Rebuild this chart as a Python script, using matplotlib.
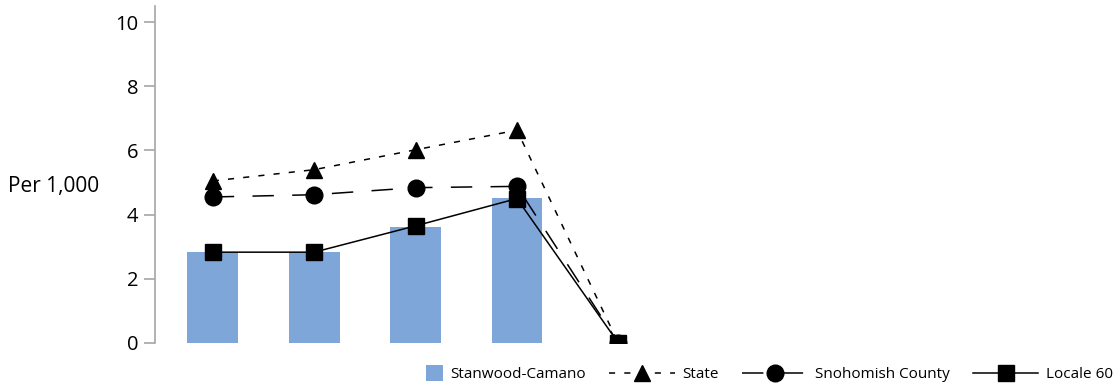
import numpy as np
import matplotlib
matplotlib.use('Agg')
from matplotlib import pyplot as plt
from matplotlib.patches import Rectangle
from matplotlib.legend_handler import HandlerPatch

plt.rcParams['font.family'] = ['Open Sans', 'DejaVu Sans']

categories = ['A', 'B', 'C', 'D', 'E']
stanwood = [2.83, 2.83, 3.62, 4.52, 0.0]
state = [5.05, 5.40, 6.02, 6.63, 0.0]
snohomish = [4.55, 4.62, 4.84, 4.88, 0.0]
locale60 = [2.83, 2.83, 3.65, 4.50, 0.0]

x = np.arange(len(categories))

fig = plt.figure(figsize=(11.13, 3.86), dpi=100)
ax = fig.add_axes([155/1113, 43/386, 950/1113, 337/386])

bars = ax.bar(x, stanwood, width=0.5, color='#7FA6D8', label='Stanwood-Camano', zorder=1)
l1, = ax.plot(x, state, color='black', lw=1.1, ls=(0, (4, 6)), marker='^', ms=11,
              label='State', zorder=3)
l2, = ax.plot(x, snohomish, color='black', lw=1.1, ls=(0, (14, 12)), marker='o', ms=12,
              label='Snohomish County', zorder=3)
l3, = ax.plot(x, locale60, color='black', lw=1.1, ls='-', marker='s', ms=11,
              label='Locale 60', zorder=4)

ax.set_xlim(-0.57, 8.8)
ax.set_ylim(0, 10.5)
ax.set_yticks([0, 2, 4, 6, 8, 10])
ax.set_xticks([])
for s in ['top', 'right', 'bottom']:
    ax.spines[s].set_visible(False)
ax.spines['left'].set_color('#A6A6A6')
ax.spines['left'].set_linewidth(1.2)
ax.tick_params(axis='y', length=8, width=1.2, color='#A6A6A6', labelsize=14.5, pad=4)

fig.text(8/1113, 1 - 187/386, 'Per 1,000', fontsize=15, va='center', ha='left')


def square_patch(legend, orig_handle, xdescent, ydescent, width, height, fontsize):
    s = 12
    return Rectangle((-xdescent + width - s, -ydescent + (height - s) / 2), s, s)


fig.legend([bars.patches[0], l1, l2, l3],
           ['Stanwood-Camano', 'State', 'Snohomish County', 'Locale 60'],
           loc='center right', bbox_to_anchor=(1.0, 1 - 375/386), ncol=4,
           frameon=False, fontsize=11, handlelength=4.3, handletextpad=0.5,
           columnspacing=1.5, borderaxespad=0, borderpad=0,
           handler_map={Rectangle: HandlerPatch(patch_func=square_patch)})

fig.savefig('out.png', dpi=100)
